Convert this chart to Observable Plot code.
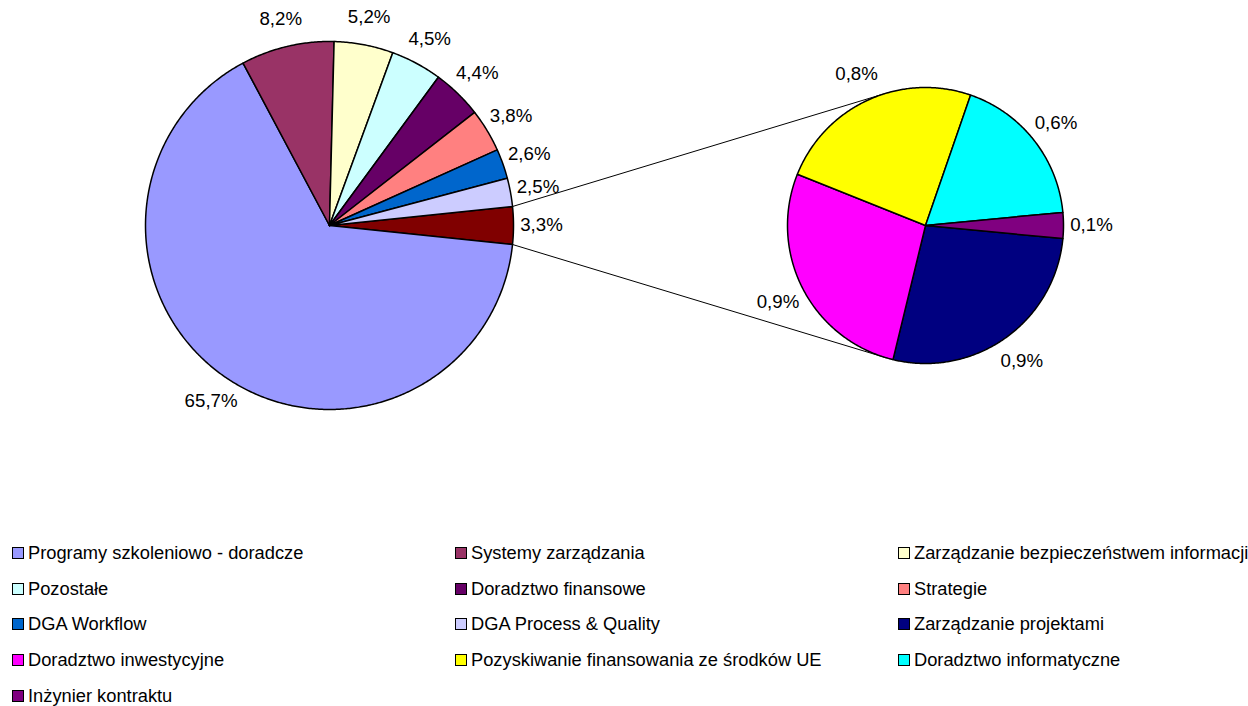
<!DOCTYPE html>
<html>
<head>
<meta charset="utf-8">
<script src="https://cdn.jsdelivr.net/npm/d3@7"></script>
<script src="https://cdn.jsdelivr.net/npm/@observablehq/plot@0.6"></script>
<style>
  body { margin: 0; background: #fff; font-family: "Liberation Sans", Arial, sans-serif; overflow: hidden; }
  #chart svg { display: block; }
  #legend { display: grid; grid-template-columns: 443px 443px 350px; grid-auto-rows: 35.8px; padding-left: 12px; width: 1236px; }
  .item { display: flex; align-items: center; font-size: 18.3px; line-height: 20px; color: #000; white-space: nowrap; }
  .sw { width: 10px; height: 10px; border: 1.5px solid #000; margin-right: 4px; flex: none; }
</style>
</head>
<body>
<div id="chart"></div>
<div id="legend"></div>
<script>
// ---- data ----
const mainCategories = [
  "Programy szkoleniowo - doradcze",
  "Systemy zarządzania",
  "Zarządzanie bezpieczeństwem informacji",
  "Pozostałe",
  "Doradztwo finansowe",
  "Strategie",
  "DGA Workflow",
  "DGA Process & Quality"
];
const mainValues = [65.7, 8.2, 5.2, 4.5, 4.4, 3.8, 2.6, 2.5];
const mainColors = ["#9999FF", "#993366", "#FFFFCC", "#CCFFFF", "#660066", "#FF8080", "#0066CC", "#CCCCFF"];

const otherKey = "Inne";
const otherColor = "#800000";

const secondaryCategories = [
  "Zarządzanie projektami",
  "Doradztwo inwestycyjne",
  "Pozyskiwanie finansowania ze środków UE",
  "Doradztwo informatyczne",
  "Inżynier kontraktu"
];
const secondaryValues = [0.9, 0.9, 0.8, 0.6, 0.1];
const secondaryColors = ["#000080", "#FF00FF", "#FFFF00", "#00FFFF", "#800080"];

// ---- layout ----
const W = 1248, H = 535;
const PX = 184;                 // pixels per unit (main radius = 1)
const mainC = [0, 0], mainR = 1;
const secC = [596 / PX, 0], secR = 138 / PX;
const labelGap = 28 / PX;

const otherValue = d3.sum(secondaryValues);
const mainTotal = d3.sum(mainValues) + otherValue;
const secTotal = otherValue;
const rad = d => d * Math.PI / 180;
const fmt = v => v.toFixed(1).replace(".", ",") + "%";

const polys = [], labels = [];
function addSlice(key, value, a0, a1, c, r) {
  const n = Math.max(2, Math.ceil(Math.abs(a1 - a0) / 0.5));
  polys.push({key, x: c[0], y: c[1]});
  for (let i = 0; i <= n; i++) {
    const a = rad(a0 + (a1 - a0) * i / n);
    polys.push({key, x: c[0] + r * Math.cos(a), y: c[1] + r * Math.sin(a)});
  }
  polys.push({key, x: c[0], y: c[1]});
  const m = rad((a0 + a1) / 2), lr = r + labelGap;
  labels.push({text: fmt(value), x: c[0] + lr * Math.cos(m), y: c[1] + lr * Math.sin(m)});
}

// main pie: "other" slice centered at 3 o'clock, rest clockwise from its lower edge
const otherSpan = otherValue / mainTotal * 360;
addSlice(otherKey, otherValue, -otherSpan / 2, otherSpan / 2, mainC, mainR);
let a = -otherSpan / 2;
mainCategories.forEach((k, i) => {
  const s = mainValues[i] / mainTotal * 360;
  addSlice(k, mainValues[i], a, a - s, mainC, mainR);
  a -= s;
});
// secondary pie: last slice centered at 3 o'clock
const lastSpan = secondaryValues[secondaryValues.length - 1] / secTotal * 360;
a = -lastSpan / 2;
secondaryCategories.forEach((k, i) => {
  const s = secondaryValues[i] / secTotal * 360;
  addSlice(k, secondaryValues[i], a, a - s, secC, secR);
  a -= s;
});

// connector lines: tangents from the "other" slice edges to the secondary pie
function tangent(p, sign) {
  const dx = p[0] - secC[0], dy = p[1] - secC[1];
  const d = Math.hypot(dx, dy), phi = Math.atan2(dy, dx), al = Math.acos(secR / d);
  const t = phi + sign * al;
  return [secC[0] + secR * Math.cos(t), secC[1] + secR * Math.sin(t)];
}
const pTop = [mainC[0] + mainR * Math.cos(rad(otherSpan / 2)), mainC[1] + mainR * Math.sin(rad(otherSpan / 2))];
const pBot = [mainC[0] + mainR * Math.cos(rad(-otherSpan / 2)), mainC[1] + mainR * Math.sin(rad(-otherSpan / 2))];
const tTop = tangent(pTop, -1), tBot = tangent(pBot, 1);
const connectors = [
  {id: "top", x: pTop[0], y: pTop[1]}, {id: "top", x: tTop[0], y: tTop[1]},
  {id: "bot", x: pBot[0], y: pBot[1]}, {id: "bot", x: tBot[0], y: tBot[1]}
];

const chart = Plot.plot({
  width: W,
  height: H,
  margin: 0,
  style: {fontFamily: "'Liberation Sans', Arial, sans-serif", background: "#fff"},
  x: {domain: [-329 / PX, (W - 329) / PX], axis: null},
  y: {domain: [(225 - H) / PX, 225 / PX], axis: null},
  color: {domain: [otherKey, ...mainCategories, ...secondaryCategories], range: [otherColor, ...mainColors, ...secondaryColors]},
  marks: [
    Plot.line(connectors, {x: "x", y: "y", z: "id", stroke: "#000", strokeWidth: 1}),
    Plot.line(polys, {x: "x", y: "y", z: "key", fill: "key", stroke: "#000", strokeWidth: 1.5, curve: "linear", strokeLinejoin: "round"}),
    Plot.text(labels, {x: "x", y: "y", text: "text", fontSize: 18.7, fill: "#000", textAnchor: "middle"})
  ]
});
document.getElementById("chart").appendChild(chart);

// legend
const legendKeys = [...mainCategories, ...secondaryCategories];
const legendColors = [...mainColors, ...secondaryColors];
const lg = document.getElementById("legend");
legendKeys.forEach((k, i) => {
  const it = document.createElement("div");
  it.className = "item";
  const sw = document.createElement("span");
  sw.className = "sw";
  sw.style.background = legendColors[i];
  it.appendChild(sw);
  it.appendChild(document.createTextNode(k));
  lg.appendChild(it);
});
</script>
</body>
</html>
